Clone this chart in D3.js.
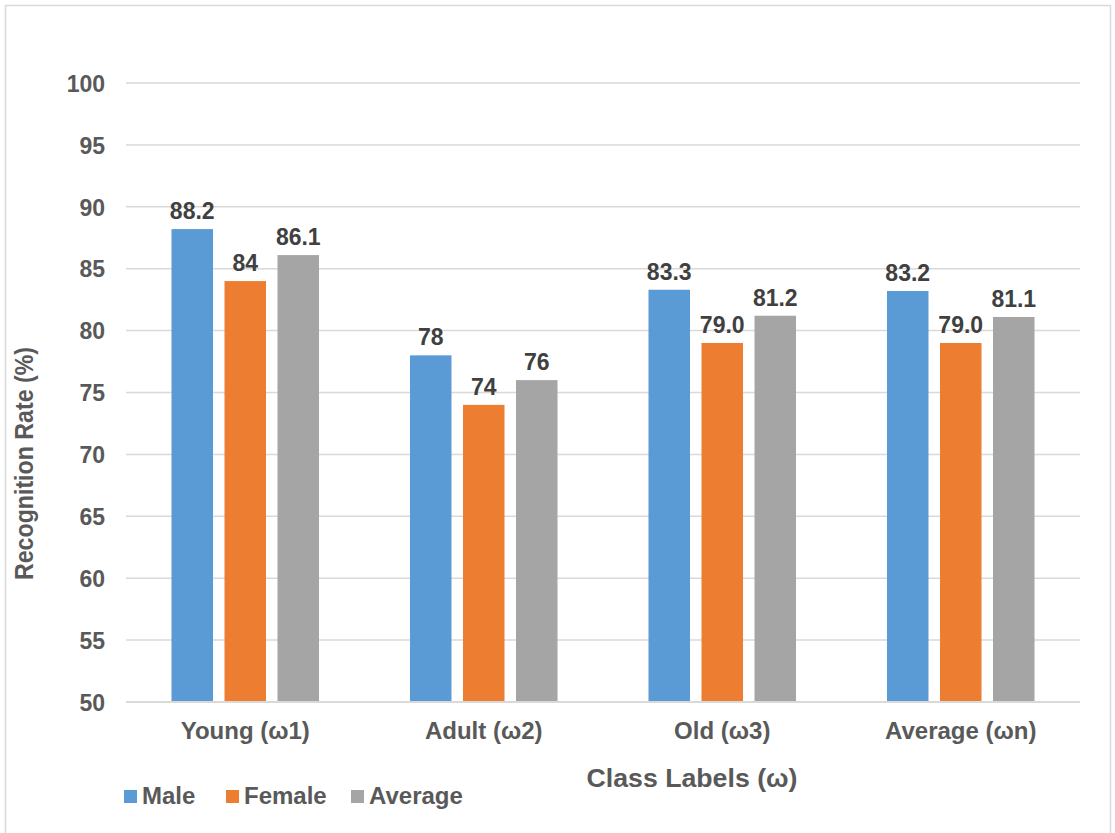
<!DOCTYPE html>
<html>
<head>
<meta charset="utf-8">
<script src="https://cdn.jsdelivr.net/npm/d3@7"></script>
<style>
  html, body { margin: 0; padding: 0; background: #fff; }
  svg text { font-family: "Liberation Sans", Arial, sans-serif; font-weight: bold; }
</style>
</head>
<body>
<svg id="chart" width="1115" height="833"></svg>
<script>
// Recognition rate per age class, split by gender
const categories = ["Young (\u03c91)", "Adult (\u03c92)", "Old (\u03c93)", "Average (\u03c9n)"];
const seriesNames = ["Male", "Female", "Average"];
const maleValues = [88.2, 78, 83.3, 83.2];
const femaleValues = [84, 74, 79.0, 79.0];
const averageValues = [86.1, 76, 81.2, 81.1];
const valueLabels = [
  ["88.2", "78", "83.3", "83.2"],
  ["84", "74", "79.0", "79.0"],
  ["86.1", "76", "81.2", "81.1"]
];
const yTicks = [50, 55, 60, 65, 70, 75, 80, 85, 90, 95, 100];
const colors = ["#5B9BD5", "#ED7D31", "#A5A5A5"];

const series = [maleValues, femaleValues, averageValues];

const svg = d3.select("#chart");

// outer chart frame
svg.append("rect")
  .attr("x", 5.5).attr("y", 5.5)
  .attr("width", 1105).attr("height", 840)
  .attr("fill", "#fff").attr("stroke", "#D9D9D9").attr("stroke-width", 1.5);

const plot = { left: 126, right: 1080, top: 83, bottom: 702 };

const x = d3.scaleBand()
  .domain(categories)
  .range([plot.left, plot.right])
  .paddingInner(0).paddingOuter(0);

const x1 = d3.scaleBand()
  .domain(seriesNames)
  .range([0, x.bandwidth()])
  .paddingInner(0.217)
  .paddingOuter(0.858);

const y = d3.scaleLinear().domain([50, 100]).range([plot.bottom, plot.top]);

// gridlines
svg.append("g")
  .selectAll("line")
  .data(yTicks)
  .join("line")
  .attr("x1", plot.left).attr("x2", plot.right)
  .attr("y1", d => y(d)).attr("y2", d => y(d))
  .attr("stroke", "#D9D9D9").attr("stroke-width", 1.5);

// y axis labels
const yAxis = d3.axisLeft(y).tickValues(yTicks).tickSize(0).tickPadding(21);
const gy = svg.append("g").attr("transform", `translate(${plot.left},0)`).call(yAxis);
gy.select(".domain").remove();
gy.selectAll("text")
  .attr("font-size", 23).attr("fill", "#595959").attr("dy", "0.36em")
  .style("font-family", "'Liberation Sans', Arial, sans-serif").style("font-weight", "bold");

// bars
const groups = svg.append("g")
  .selectAll("g")
  .data(seriesNames.map((name, i) => ({ name, i, values: series[i] })))
  .join("g")
  .attr("fill", d => colors[d.i]);

groups.selectAll("rect")
  .data(d => d.values.map((v, j) => ({ v, j, name: d.name })))
  .join("rect")
  .attr("x", d => x(categories[d.j]) + x1(d.name))
  .attr("width", x1.bandwidth())
  .attr("y", d => y(d.v))
  .attr("height", d => y(50) - y(d.v));

// data labels
groups.selectAll("text")
  .data(d => d.values.map((v, j) => ({ v, j, name: d.name, label: valueLabels[d.i][j] })))
  .join("text")
  .attr("x", d => x(categories[d.j]) + x1(d.name) + x1.bandwidth() / 2)
  .attr("y", d => y(d.v) - 10)
  .attr("text-anchor", "middle")
  .attr("font-size", 23)
  .attr("fill", "#404040")
  .text(d => d.label);

// baseline
svg.append("line")
  .attr("x1", plot.left).attr("x2", plot.right)
  .attr("y1", y(50)).attr("y2", y(50))
  .attr("stroke", "#D9D9D9").attr("stroke-width", 2);

// x axis labels
const xAxis = d3.axisBottom(x).tickSize(0).tickPadding(0);
const gx = svg.append("g").attr("transform", `translate(0,${plot.bottom})`).call(xAxis);
gx.select(".domain").remove();
gx.selectAll("text")
  .attr("font-size", 24).attr("fill", "#595959")
  .attr("y", 37).attr("dy", 0)
  .style("font-family", "'Liberation Sans', Arial, sans-serif").style("font-weight", "bold");

// axis titles
svg.append("text")
  .attr("x", 692).attr("y", 787)
  .attr("text-anchor", "middle")
  .attr("font-size", 26).attr("fill", "#595959")
  .attr("textLength", 211).attr("lengthAdjust", "spacingAndGlyphs")
  .text("Class Labels (\u03c9)");

svg.append("text")
  .attr("transform", `translate(33,463.5) rotate(-90)`)
  .attr("text-anchor", "middle")
  .attr("font-size", 25).attr("fill", "#595959")
  .attr("textLength", 233).attr("lengthAdjust", "spacingAndGlyphs")
  .text("Recognition Rate (%)");

// legend
const legendX = [124, 226, 351];
const legend = svg.append("g")
  .selectAll("g")
  .data(seriesNames)
  .join("g")
  .attr("transform", (d, i) => `translate(${legendX[i]},790)`);
legend.append("rect")
  .attr("width", 13).attr("height", 13)
  .attr("fill", (d, i) => colors[i]);
legend.append("text")
  .attr("x", 18).attr("y", 14)
  .attr("font-size", 24).attr("fill", "#595959")
  .text(d => d);
</script>
</body>
</html>
